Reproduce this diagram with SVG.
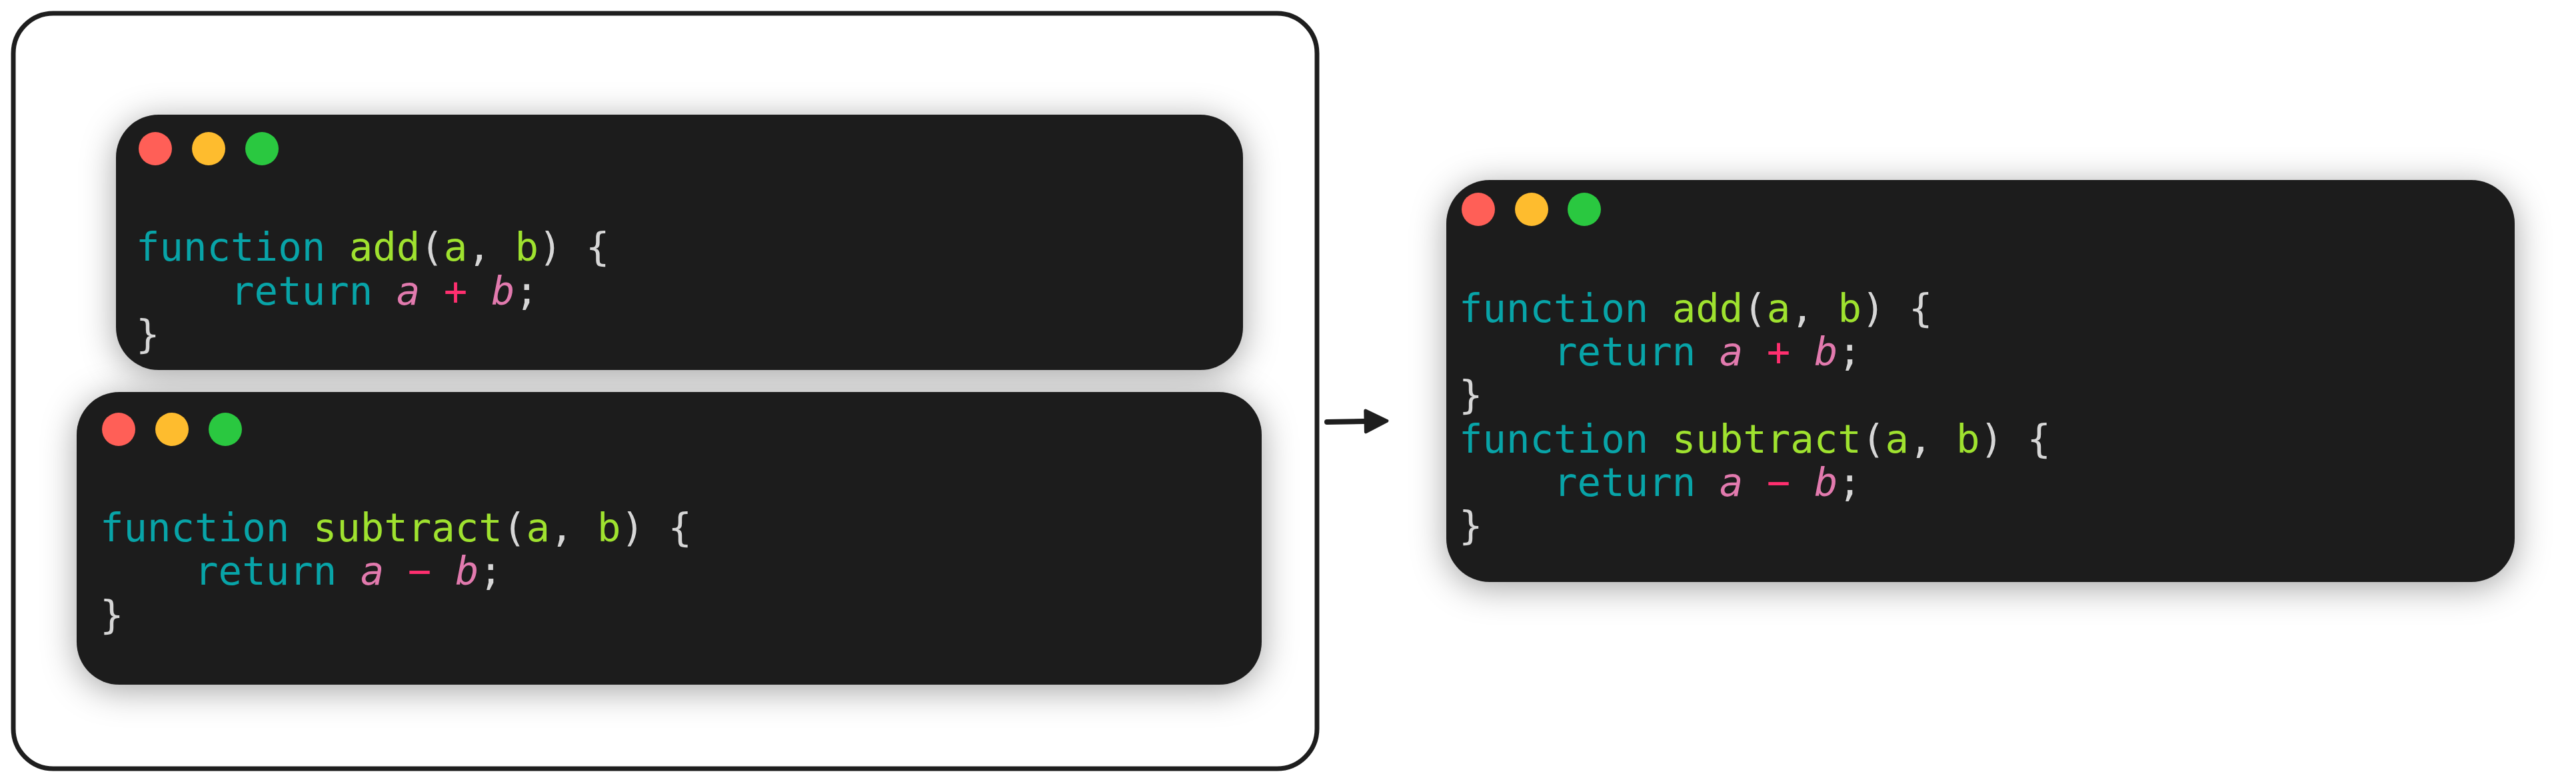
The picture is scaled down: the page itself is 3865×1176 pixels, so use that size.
<svg xmlns="http://www.w3.org/2000/svg" width="3865" height="1176" viewBox="0 0 3865 1176">
<style>
.win{fill:#1c1c1c}
.code{font-family:"DejaVu Sans Mono","Liberation Mono",monospace;font-size:59px;white-space:pre}
.kw{fill:#08a4a8}
.fn{fill:#9fe22f}
.pu{fill:#d6d6d6}
.vr{fill:#e27aae;font-style:italic}
.op{fill:#ff2f6f}
.r{fill:#ff5f57}
.y{fill:#febc2e}
.g{fill:#2ac840}
</style>
<defs>
<filter id="sh" x="-20%" y="-30%" width="140%" height="160%">
<feDropShadow dx="0" dy="8" stdDeviation="26" flood-color="#000" flood-opacity="0.36"/>
</filter>
<marker id="ah" viewBox="0 0 10 10" refX="6.75" refY="5" markerWidth="5" markerHeight="5" orient="auto" markerUnits="strokeWidth">
<path d="M1,1 L9,5 L1,9 Z" fill="#1e1e1e" stroke="#1e1e1e" stroke-width="1.2" stroke-linejoin="round"/>
</marker>
</defs>
<rect x="0" y="0" width="3865" height="1176" fill="#ffffff"/>
<g id="frame">
<rect x="20" y="20" width="1956" height="1133" rx="60" fill="none" stroke="#1e1e1e" stroke-width="7"/>
</g>
<g id="win-add">
<rect class="win" x="174" y="172" width="1691" height="383" rx="64" filter="url(#sh)"/>
<circle class="r" cx="233" cy="223" r="25"/>
<circle class="y" cx="313" cy="223" r="25"/>
<circle class="g" cx="393" cy="223" r="25"/>
<text class="code" x="204" y="391" xml:space="preserve"><tspan class="kw">function</tspan> <tspan class="fn">add</tspan><tspan class="pu">(</tspan><tspan class="fn">a</tspan><tspan class="pu">, </tspan><tspan class="fn">b</tspan><tspan class="pu">) {</tspan></text>
<text class="code" x="204" y="457" xml:space="preserve">    <tspan class="kw">return</tspan> <tspan class="vr">a</tspan> <tspan class="op">+</tspan> <tspan class="vr">b</tspan><tspan class="pu">;</tspan></text>
<text class="code pu" x="204" y="522">}</text>
</g>
<g id="win-subtract">
<rect class="win" x="115" y="588" width="1778" height="439" rx="64" filter="url(#sh)"/>
<circle class="r" cx="178" cy="644" r="25"/>
<circle class="y" cx="258" cy="644" r="25"/>
<circle class="g" cx="338" cy="644" r="25"/>
<text class="code" x="150" y="812" xml:space="preserve"><tspan class="kw">function</tspan> <tspan class="fn">subtract</tspan><tspan class="pu">(</tspan><tspan class="fn">a</tspan><tspan class="pu">, </tspan><tspan class="fn">b</tspan><tspan class="pu">) {</tspan></text>
<text class="code" x="150" y="877" xml:space="preserve">    <tspan class="kw">return</tspan> <tspan class="vr">a</tspan> <tspan class="op">−</tspan> <tspan class="vr">b</tspan><tspan class="pu">;</tspan></text>
<text class="code pu" x="150" y="943">}</text>
</g>
<g id="win-merged">
<rect class="win" x="2170" y="270" width="1603" height="603" rx="65" filter="url(#sh)"/>
<circle class="r" cx="2218" cy="314" r="25"/>
<circle class="y" cx="2298" cy="314" r="25"/>
<circle class="g" cx="2377" cy="314" r="25"/>
<text class="code" x="2189" y="483" xml:space="preserve"><tspan class="kw">function</tspan> <tspan class="fn">add</tspan><tspan class="pu">(</tspan><tspan class="fn">a</tspan><tspan class="pu">, </tspan><tspan class="fn">b</tspan><tspan class="pu">) {</tspan></text>
<text class="code" x="2189" y="548" xml:space="preserve">    <tspan class="kw">return</tspan> <tspan class="vr">a</tspan> <tspan class="op">+</tspan> <tspan class="vr">b</tspan><tspan class="pu">;</tspan></text>
<text class="code pu" x="2189" y="613">}</text>
<text class="code" x="2189" y="679" xml:space="preserve"><tspan class="kw">function</tspan> <tspan class="fn">subtract</tspan><tspan class="pu">(</tspan><tspan class="fn">a</tspan><tspan class="pu">, </tspan><tspan class="fn">b</tspan><tspan class="pu">) {</tspan></text>
<text class="code" x="2189" y="744" xml:space="preserve">    <tspan class="kw">return</tspan> <tspan class="vr">a</tspan> <tspan class="op">−</tspan> <tspan class="vr">b</tspan><tspan class="pu">;</tspan></text>
<text class="code pu" x="2189" y="809">}</text>
</g>
<g id="connectors">
<path d="M1991,633 L2072,631.5" fill="none" stroke="#1e1e1e" stroke-width="8" stroke-linecap="round" marker-end="url(#ah)"/>
</g>
</svg>
